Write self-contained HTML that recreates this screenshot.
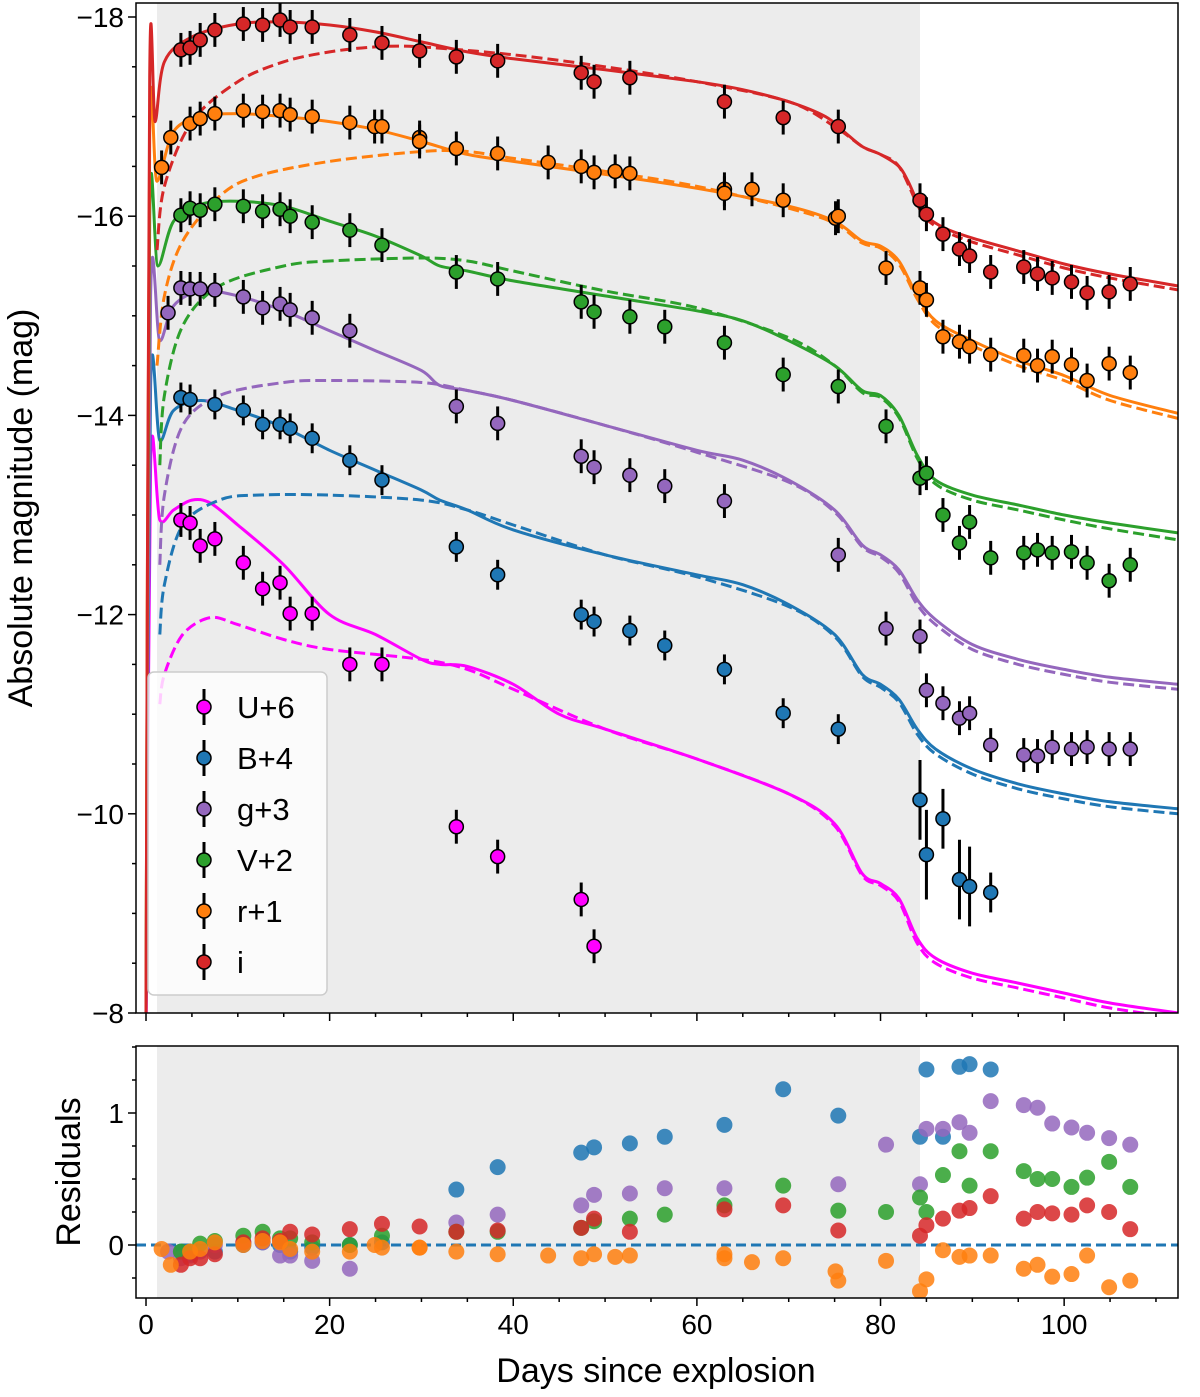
<!DOCTYPE html>
<html><head><meta charset="utf-8"><style>
body{margin:0;background:#fff}
svg{display:block;font-family:"Liberation Sans","DejaVu Sans",sans-serif}
</style></head><body>
<svg id="chart" width="1200" height="1397" viewBox="0 0 1200 1397">
</svg>
<script>
// ---- data ----
const days_i=[3.8,4.8,5.9,7.5,10.6,12.7,14.6,15.7,18.1,22.2,25.7,29.8,33.8,38.3,47.4,48.8,52.7,63.0,69.4,75.4,84.3,85.0,86.8,88.6,89.7,92.0,95.6,97.1,98.7,100.8,102.5,104.9,107.2];
const mag_i=[-17.67,-17.69,-17.77,-17.87,-17.93,-17.92,-17.97,-17.90,-17.90,-17.82,-17.74,-17.66,-17.60,-17.56,-17.44,-17.35,-17.39,-17.15,-16.99,-16.90,-16.16,-16.02,-15.82,-15.67,-15.60,-15.44,-15.49,-15.42,-15.38,-15.34,-15.23,-15.24,-15.32];
const days_r=[1.7,2.7,4.8,5.9,7.5,10.6,12.7,14.6,15.7,18.1,22.2,24.9,25.7,29.8,29.8,33.8,38.3,43.8,47.4,48.8,51.1,52.7,63.0,63.0,66.0,69.4,75.1,75.4,80.6,84.3,85.0,86.8,88.6,89.7,92.0,95.6,97.1,98.7,100.8,102.5,104.9,107.2];
const mag_r=[-16.49,-16.79,-16.93,-16.98,-17.03,-17.06,-17.05,-17.06,-17.02,-17.0,-16.94,-16.90,-16.90,-16.79,-16.75,-16.68,-16.63,-16.54,-16.50,-16.44,-16.45,-16.43,-16.27,-16.23,-16.27,-16.16,-15.98,-16.0,-15.48,-15.28,-15.16,-14.79,-14.74,-14.69,-14.61,-14.60,-14.50,-14.59,-14.51,-14.35,-14.52,-14.43];
const days_V=[3.8,4.8,5.9,7.5,10.6,12.7,14.6,15.7,18.1,22.2,25.7,33.8,38.3,47.4,48.8,52.7,56.5,63.0,69.4,75.4,80.6,84.3,85.0,86.8,88.6,89.7,92.0,95.6,97.1,98.7,100.8,102.5,104.9,107.2];
const mag_V=[-16.01,-16.08,-16.06,-16.12,-16.10,-16.05,-16.07,-16.0,-15.94,-15.86,-15.71,-15.44,-15.37,-15.14,-15.04,-14.99,-14.89,-14.73,-14.41,-14.29,-13.89,-13.37,-13.42,-13.0,-12.72,-12.93,-12.57,-12.62,-12.65,-12.62,-12.63,-12.52,-12.34,-12.50];
const days_g=[2.4,3.8,4.8,5.9,7.5,10.6,12.7,14.6,15.7,18.1,22.2,33.8,38.3,47.4,48.8,52.7,56.5,63.0,75.4,80.6,84.3,85.0,86.8,88.6,89.7,92.0,95.6,97.1,98.7,100.8,102.5,104.9,107.2];
const mag_g=[-15.03,-15.28,-15.27,-15.27,-15.26,-15.19,-15.08,-15.12,-15.06,-14.98,-14.85,-14.09,-13.92,-13.59,-13.48,-13.40,-13.29,-13.14,-12.60,-11.86,-11.78,-11.24,-11.11,-10.96,-11.01,-10.69,-10.59,-10.58,-10.67,-10.65,-10.67,-10.65,-10.65];
const days_B=[3.8,4.8,7.5,10.6,12.7,14.6,15.7,18.1,22.2,25.7,33.8,38.3,47.4,48.8,52.7,56.5,63.0,69.4,75.4,84.3,85.0,86.8,88.6,89.7,92.0];
const mag_B=[-14.18,-14.16,-14.11,-14.05,-13.91,-13.91,-13.87,-13.77,-13.55,-13.35,-12.68,-12.40,-12.0,-11.93,-11.84,-11.69,-11.45,-11.01,-10.85,-10.14,-9.59,-9.95,-9.34,-9.27,-9.21];
const err_B=[0.15,0.15,0.15,0.15,0.15,0.15,0.15,0.15,0.15,0.15,0.15,0.15,0.15,0.15,0.15,0.15,0.15,0.15,0.15,0.4,0.45,0.3,0.4,0.4,0.2];
const days_U=[3.8,4.8,5.9,7.5,10.6,12.7,14.6,15.7,18.1,22.2,25.7,33.8,38.3,47.4,48.8];
const mag_U=[-12.95,-12.92,-12.69,-12.76,-12.52,-12.26,-12.32,-12.01,-12.01,-11.50,-11.50,-9.87,-9.57,-9.14,-8.67];
// model curves
const md_i=[0,0.4,1.0,2,5,10,15,20,25,30,35,40,50,60,65,70,74,76,78,80,82,83,84,85,87,90,95,100,105,112.4];
const ms_i=[-8,-17.4,-16.95,-17.55,-17.8,-17.93,-17.95,-17.92,-17.85,-17.75,-17.65,-17.58,-17.47,-17.35,-17.27,-17.15,-17.0,-16.85,-16.7,-16.62,-16.5,-16.35,-16.15,-16.0,-15.88,-15.78,-15.65,-15.52,-15.42,-15.3];
const dd_i=[1.2,2,5,10,15,20,25,30,40,50,60,70,75,78,80,82,84,85,87,90,95,100,105,112.4];
const ds_i=[-15.66,-16.3,-16.95,-17.35,-17.55,-17.65,-17.7,-17.7,-17.62,-17.5,-17.35,-17.15,-16.9,-16.7,-16.62,-16.5,-16.12,-15.97,-15.85,-15.74,-15.61,-15.48,-15.38,-15.26];
const md_r=[0,0.4,1.2,3,6,10,15,20,25,30,35,40,50,60,70,75,78,80,82,84,86,90,95,100,105,112.4];
const ms_r=[-8,-16.8,-16.35,-16.85,-17.0,-17.03,-17.0,-16.95,-16.87,-16.75,-16.62,-16.55,-16.42,-16.28,-16.1,-15.95,-15.75,-15.7,-15.55,-15.2,-14.95,-14.75,-14.55,-14.4,-14.2,-14.02];
const dd_r=[1.2,2,4,8,12,20,30,35,40,50,60,70,75,78,80,82,84,86,90,95,100,105,112.4];
const ds_r=[-14.5,-15.2,-15.75,-16.2,-16.4,-16.55,-16.65,-16.65,-16.58,-16.45,-16.3,-16.08,-15.93,-15.73,-15.68,-15.52,-15.17,-14.91,-14.7,-14.5,-14.35,-14.15,-13.97];
const md_V=[0,0.4,1.3,3,6,10,15,20,25,30,32,35,40,50,60,65,70,75,78,80,82,84,86,90,95,100,105,112.4];
const ms_V=[-8,-16.0,-15.5,-15.95,-16.12,-16.15,-16.1,-15.95,-15.8,-15.6,-15.5,-15.45,-15.35,-15.2,-15.05,-14.95,-14.75,-14.5,-14.25,-14.2,-14.0,-13.6,-13.35,-13.2,-13.1,-13.0,-12.92,-12.82];
const dd_V=[1.5,2,4,8,15,20,30,35,40,50,60,70,75,78,80,82,84,86,90,95,100,105,112.4];
const ds_V=[-13.5,-14.2,-14.9,-15.3,-15.5,-15.55,-15.58,-15.55,-15.45,-15.25,-15.08,-14.78,-14.5,-14.23,-14.18,-13.98,-13.57,-13.31,-13.15,-13.05,-12.95,-12.86,-12.75];
const md_g=[0,0.5,1.5,3,6,10,15,20,25,30,32,35,40,50,60,65,70,75,78,80,82,84,86,90,95,100,105,112.4];
const ms_g=[-8,-15.2,-14.75,-15.1,-15.25,-15.2,-15.05,-14.85,-14.65,-14.45,-14.3,-14.25,-14.15,-13.9,-13.65,-13.55,-13.35,-13.05,-12.7,-12.6,-12.45,-12.15,-11.95,-11.7,-11.55,-11.45,-11.37,-11.3];
const dd_g=[1.5,2,4,8,15,20,30,35,40,50,60,70,75,78,80,82,84,86,90,95,100,105,112.4];
const ds_g=[-12.5,-13.2,-13.9,-14.2,-14.33,-14.35,-14.33,-14.25,-14.15,-13.9,-13.63,-13.33,-13.03,-12.68,-12.58,-12.42,-12.1,-11.9,-11.65,-11.5,-11.4,-11.32,-11.25];
const md_B=[0,0.5,1.5,3,6,10,15,20,25,30,32,35,40,50,60,65,70,75,78,80,82,84,86,90,95,100,105,112.4];
const ms_B=[-8,-14.3,-13.75,-14.05,-14.15,-14.05,-13.88,-13.65,-13.45,-13.25,-13.15,-13.05,-12.85,-12.6,-12.4,-12.3,-12.1,-11.8,-11.4,-11.3,-11.15,-10.85,-10.65,-10.45,-10.3,-10.2,-10.12,-10.05];
const dd_B=[1.5,2,4,8,12,20,30,35,40,50,60,70,75,78,80,82,84,86,90,95,100,105,112.4];
const ds_B=[-11.8,-12.3,-12.9,-13.15,-13.2,-13.2,-13.15,-13.05,-12.9,-12.6,-12.38,-12.08,-11.78,-11.38,-11.27,-11.12,-10.8,-10.6,-10.4,-10.25,-10.15,-10.07,-10.0];
const md_U=[0,0.5,1.5,3,5,7,10,15,20,25,30,32,35,40,45,50,60,70,75,78,80,82,84,86,90,95,100,105,112.4];
const ms_U=[-7.5,-13.5,-12.95,-13.05,-13.15,-13.12,-12.9,-12.5,-12.0,-11.8,-11.55,-11.5,-11.48,-11.3,-11.0,-10.85,-10.55,-10.2,-9.9,-9.4,-9.3,-9.15,-8.75,-8.55,-8.4,-8.3,-8.2,-8.1,-8.0];
const dd_U=[1.5,2,4,7,10,15,20,30,35,40,50,60,70,75,78,80,82,84,86,90,95,100,105,112.4];
const ds_U=[-11.1,-11.4,-11.8,-11.97,-11.9,-11.75,-11.65,-11.55,-11.45,-11.25,-10.85,-10.55,-10.2,-9.88,-9.38,-9.28,-9.12,-8.7,-8.5,-8.35,-8.25,-8.15,-8.05,-7.95];
// residuals
const rdays_B=[3.8,4.8,7.5,10.6,12.7,14.6,15.7,18.1,22.2,25.7,33.8,38.3,47.4,48.8,52.7,56.5,63.0,69.4,75.4,84.3,85.0,86.8,88.6,89.7,92.0];
const res_B=[-0.05,-0.07,-0.05,0.0,0.02,0.0,-0.05,-0.02,0.0,0.02,0.42,0.59,0.70,0.74,0.77,0.82,0.91,1.18,0.98,0.82,1.33,0.82,1.35,1.37,1.33];
const res_g=[-0.05,-0.1,-0.08,-0.05,0.0,0.02,0.02,-0.08,-0.08,-0.12,-0.18,0.17,0.23,0.3,0.38,0.39,0.43,0.43,0.46,0.76,0.46,0.88,0.88,0.93,0.85,1.09,1.06,1.04,0.92,0.89,0.85,0.81,0.76];
const res_V=[-0.05,-0.05,0.01,0.03,0.07,0.1,0.05,0.05,0.02,0.0,0.07,0.1,0.1,0.13,0.18,0.2,0.23,0.3,0.45,0.26,0.25,0.36,0.25,0.53,0.71,0.45,0.71,0.56,0.5,0.5,0.44,0.51,0.63,0.44];
const res_i=[-0.15,-0.1,-0.1,-0.07,0.02,0.05,0.03,0.1,0.08,0.12,0.16,0.14,0.1,0.11,0.13,0.2,0.1,0.27,0.3,0.11,0.07,0.15,0.2,0.26,0.28,0.37,0.2,0.25,0.24,0.23,0.3,0.25,0.12];
const res_r=[-0.03,-0.15,-0.05,-0.03,0.02,0.0,0.03,0.02,-0.03,-0.05,-0.05,0.0,-0.02,-0.02,-0.02,-0.05,-0.07,-0.08,-0.1,-0.07,-0.09,-0.08,-0.07,-0.1,-0.13,-0.1,-0.2,-0.27,-0.12,-0.35,-0.26,-0.04,-0.09,-0.08,-0.08,-0.18,-0.15,-0.24,-0.22,-0.08,-0.32,-0.27];
const xTicks=[0,20,40,60,80,100];
const yTicks=[-18,-16,-14,-12,-10,-8];
const rTicks=[0,1];
const legendLabels=["U+6","B+4","g+3","V+2","r+1","i"];

// ---- layout ----
const svg=document.getElementById('chart');
const NS='http://www.w3.org/2000/svg';
const L=136,R=1178,T=3,B=1013,RT=1046,RB=1298;
const xmin=-1.09,xmax=112.4;
const X=d=>L+(d-xmin)/(xmax-xmin)*(R-L);
const Y=m=>17+(m+18)*99.6;
const YR=r=>1245-r*132;
function el(tag,attrs,parent){const e=document.createElementNS(NS,tag);for(const k in attrs)e.setAttribute(k,attrs[k]);(parent||svg).appendChild(e);return e;}
const C={U:'#ff00ff',B:'#1f77b4',g:'#9467bd',V:'#2ca02c',r:'#ff7f0e',i:'#d62728'};

const defs=el('defs',{});
const cp=el('clipPath',{id:'cm'},defs);el('rect',{x:L,y:T,width:R-L,height:B-T},cp);
const cp2=el('clipPath',{id:'cr'},defs);el('rect',{x:L,y:RT,width:R-L,height:RB-RT},cp2);

let s=el('rect',{x:X(1.2),y:T,width:X(84.3)-X(1.2),height:B-T,fill:'#ececec'});


s=el('rect',{x:X(1.2),y:RT,width:X(84.3)-X(1.2),height:RB-RT,fill:'#ececec'});



const gm=el('g',{'clip-path':'url(#cm)'});


function smoothPath(P){
  let d='M'+P[0][0].toFixed(1)+','+P[0][1].toFixed(1);
  for(let k=0;k<P.length-1;k++){
    const p0=P[Math.max(0,k-1)],p1=P[k],p2=P[k+1],p3=P[Math.min(P.length-1,k+2)];
    const t=0.16;
    const c1=[p1[0]+(p2[0]-p0[0])*t,p1[1]+(p2[1]-p0[1])*t];
    const c2=[p2[0]-(p3[0]-p1[0])*t,p2[1]-(p3[1]-p1[1])*t];
    d+=` C${c1[0].toFixed(1)},${c1[1].toFixed(1)} ${c2[0].toFixed(1)},${c2[1].toFixed(1)} ${p2[0].toFixed(1)},${p2[1].toFixed(1)}`;
  }
  return d;
}
function line(ds,ms,col,dash,name){
  const P=ds.map((d,k)=>[X(d),Y(ms[k])]);
  const e=el('path',{d:smoothPath(P),fill:'none',stroke:col,'stroke-width':3,'stroke-linejoin':'round'},gm);
  if(dash)e.setAttribute('stroke-dasharray','11,5');
  
  
}
const bands=[
 ['U',md_U,ms_U,dd_U,ds_U,days_U,mag_U,null],
 ['B',md_B,ms_B,dd_B,ds_B,days_B,mag_B,err_B],
 ['g',md_g,ms_g,dd_g,ds_g,days_g,mag_g,null],
 ['V',md_V,ms_V,dd_V,ds_V,days_V,mag_V,null],
 ['r',md_r,ms_r,dd_r,ds_r,days_r,mag_r,null],
 ['i',md_i,ms_i,dd_i,ds_i,days_i,mag_i,null]];
bands.forEach(b=>{line(b[1],b[2],C[b[0]],false,'model-solid-'+b[0]);line(b[3],b[4],C[b[0]],true,'model-dashed-'+b[0]);});
bands.forEach(b=>{
  b[5].forEach((d,k)=>{
    const e=b[7]?b[7][k]:0.17;
    const cx=X(d),cy=Y(b[6][k]);
    const eb=el('line',{x1:cx,x2:cx,y1:Y(b[6][k]-e),y2:Y(b[6][k]+e),stroke:'#000','stroke-width':3},gm);
    
    
    const c=el('circle',{cx:cx,cy:cy,r:7,fill:C[b[0]],stroke:'#000','stroke-width':1.5},gm);
    
    
  });
});

const gr=el('g',{'clip-path':'url(#cr)'});


const zl=el('line',{x1:L,x2:R,y1:YR(0),y2:YR(0),stroke:'#1f77b4','stroke-width':3,'stroke-dasharray':'10,5'},gr);


[['B',rdays_B,res_B],['g',days_g,res_g],['V',days_V,res_V],['i',days_i,res_i],['r',days_r,res_r]].forEach(b=>{
  b[1].forEach((d,k)=>{
    const c=el('circle',{cx:X(d),cy:YR(b[2][k]),r:8,fill:C[b[0]],'fill-opacity':0.85},gr);
    
    
  });
});

[[T,B],[RT,RB]].forEach(f=>{const r=el('rect',{x:L,y:f[0],width:R-L,height:f[1]-f[0],fill:'none',stroke:'#000','stroke-width':1.5});
});

function txt(x,y,t,size,anchor,name,rot){const e=el('text',{x:x,y:y,'font-size':size,'text-anchor':anchor,fill:'#000'});e.textContent=t;if(rot)e.setAttribute('transform',`rotate(-90 ${x} ${y})`);
return e;}
for(let d=0;d<=110;d+=5){const maj=d%20===0,len=maj?8:4;
  [B,RB].forEach(yb=>el('line',{x1:X(d),x2:X(d),y1:yb,y2:yb+len,stroke:'#000','stroke-width':1.5}));}
xTicks.forEach(d=>txt(X(d),RB+36,String(d),28,'middle','x-tick-label'));
for(let m=-18;m<=-8;m+=0.5){const maj=yTicks.includes(m),len=maj?8:4;el('line',{x1:L-len,x2:L,y1:Y(m),y2:Y(m),stroke:'#000','stroke-width':1.5});}
yTicks.forEach(m=>txt(L-12,Y(m)+10,'\u2212'+Math.abs(m),28,'end','y-tick-label'));
for(let r=-0.25;r<=1.5;r+=0.25){const maj=rTicks.includes(r),len=maj?8:4;el('line',{x1:L-len,x2:L,y1:YR(r),y2:YR(r),stroke:'#000','stroke-width':1.5});}
rTicks.forEach(r=>txt(L-12,YR(r)+10,String(r),28,'end','residual-tick-label'));
txt(656,1382,'Days since explosion',34,'middle','x-axis-title');
txt(32,508,'Absolute magnitude (mag)',34,'middle','y-axis-title',true);
txt(80,1172,'Residuals',34,'middle','residual-axis-title',true);

const lg=el('g',{});


el('rect',{x:148,y:672,width:179,height:323,rx:6,fill:'#fff','fill-opacity':0.8,stroke:'#ccc','stroke-width':1.5},lg);
const keys=['U','B','g','V','r','i'];
legendLabels.forEach((lab,k)=>{
  const y=707+k*51;
  const g=el('g',{},lg);
  
  
  el('line',{x1:204,x2:204,y1:y-18,y2:y+18,stroke:'#000','stroke-width':3},g);
  el('circle',{cx:204,cy:y,r:7,fill:C[keys[k]],stroke:'#000','stroke-width':1.5},g);
  const t=el('text',{x:237,y:y+11,'font-size':31,fill:'#000'},g);t.textContent=lab;
});
</script>
</body></html>
